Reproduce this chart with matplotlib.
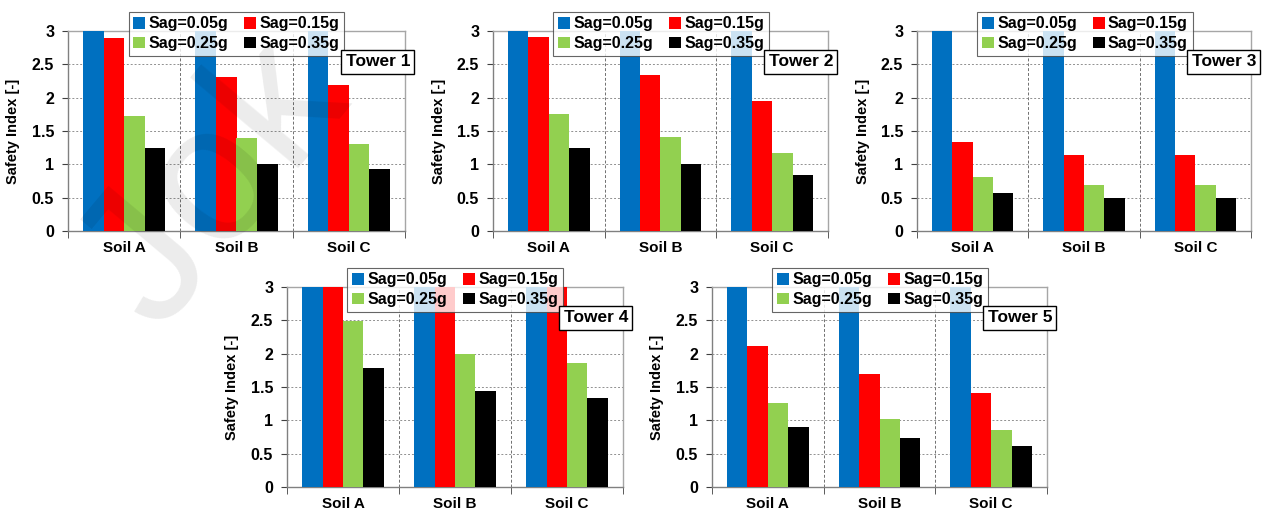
import numpy as np
import matplotlib
matplotlib.use("Agg")
import matplotlib.pyplot as plt
from matplotlib.patches import Patch

plt.rcParams['font.family'] = ['Liberation Sans', 'DejaVu Sans']
plt.rcParams['font.weight'] = 'bold'

soils = ["Soil A", "Soil B", "Soil C"]
series_labels = ["Sag=0.05g", "Sag=0.15g", "Sag=0.25g", "Sag=0.35g"]
colors = ["#0070C0", "#FF0000", "#92D050", "#000000"]
towers = ["Tower 1", "Tower 2", "Tower 3", "Tower 4", "Tower 5"]

# safety index per tower, rows = Sag level, cols = soil (values above 3 clipped)
tower1 = [[3.0, 3.0, 3.0], [2.89, 2.31, 2.185], [1.73, 1.395, 1.305], [1.24, 1.0, 0.935]]
tower2 = [[3.0, 3.0, 3.0], [2.915, 2.335, 1.95], [1.75, 1.405, 1.17], [1.25, 1.0, 0.84]]
tower3 = [[3.0, 3.0, 3.0], [1.33, 1.135, 1.135], [0.805, 0.69, 0.69], [0.575, 0.495, 0.495]]
tower4 = [[3.0, 3.0, 3.0], [3.0, 3.0, 3.0], [2.49, 2.0, 1.86], [1.79, 1.435, 1.335]]
tower5 = [[3.0, 3.0, 3.0], [2.11, 1.69, 1.41], [1.265, 1.02, 0.85], [0.905, 0.73, 0.61]]
all_data = [tower1, tower2, tower3, tower4, tower5]

W, H = 1271, 512
# axes boxes in pixels: left, top, right, bottom
boxes = [(68, 31, 405, 231), (493, 31, 828, 231), (917, 31, 1251, 231),
         (287, 287, 623, 487), (712, 287, 1047, 487)]

fig = plt.figure(figsize=(W / 100, H / 100), dpi=100)

bw = 0.183
leg_order = [0, 2, 1, 3]  # legend fills by column, reference reads row-wise
for i, (name, data, box) in enumerate(zip(towers, all_data, boxes)):
    l, t, r, b = box
    ax = fig.add_axes([l / W, 1 - b / H, (r - l) / W, (b - t) / H])
    x = np.arange(len(soils))
    for j in range(4):
        ax.bar(x + (j - 1.5) * bw, data[j], width=bw, color=colors[j], zorder=3)
    ax.set_xlim(-0.5, 2.5)
    ax.set_ylim(0, 3)
    ax.set_yticks(np.arange(0, 3.01, 0.5))
    ax.set_yticklabels(["0", "0.5", "1", "1.5", "2", "2.5", "3"])
    ax.yaxis.grid(True, linestyle=(0, (2, 2)), color="#909090", linewidth=0.7, zorder=0)
    for d in [0.5, 1.5]:
        ax.axvline(d, color="#707070", linestyle=(0, (3, 2)), linewidth=0.7, zorder=1)
    ax.set_xticks(x)
    ax.set_xticklabels(soils, fontsize=11, fontweight='bold')
    ax.set_xticks([-0.5, 0.5, 1.5, 2.5], minor=True)
    ax.tick_params(axis='x', which='major', length=0, pad=7)
    ax.tick_params(axis='x', which='minor', length=5, color="#404040", direction='out')
    ax.tick_params(axis='y', length=4, color="#404040", labelsize=11.5, pad=6)
    for lab in ax.get_yticklabels():
        lab.set_fontweight('bold')
    for s in ["top", "right"]:
        ax.spines[s].set_color("#a6a6a6")
        ax.spines[s].set_linewidth(1.0)
    for s in ["left", "bottom"]:
        ax.spines[s].set_color("#808080")
        ax.spines[s].set_linewidth(1.0)
    ax.set_ylabel("Safety Index [-]", fontsize=10.5, fontweight='bold', labelpad=8)

    handles = [Patch(facecolor=colors[k], edgecolor='none') for k in leg_order]
    labels = [series_labels[k] for k in leg_order]
    leg = ax.legend(handles, labels, ncol=2, loc='upper left',
                    bbox_to_anchor=(0.18, 1.097), borderaxespad=0,
                    prop={'size': 11.5, 'weight': 'bold'}, frameon=True, fancybox=False,
                    handlelength=0.75, handleheight=0.75, handletextpad=0.2,
                    columnspacing=1.0, borderpad=0.3, labelspacing=0.3)
    leg.get_frame().set_edgecolor("#404040")
    leg.get_frame().set_linewidth(0.8)
    leg.set_zorder(5)

    ax.text(1.015, 0.845, name, transform=ax.transAxes, ha='right', va='center',
            fontsize=12.5, fontweight='bold', zorder=6,
            bbox=dict(boxstyle='square,pad=0.25', facecolor='white', edgecolor='black', linewidth=1.0))

# faint watermark
fig.text(0.17, 0.64, "Jok", fontsize=140, rotation=50, color='black', alpha=0.08,
         ha='center', va='center', fontweight='normal', zorder=10)

fig.savefig("out.png", dpi=100)
